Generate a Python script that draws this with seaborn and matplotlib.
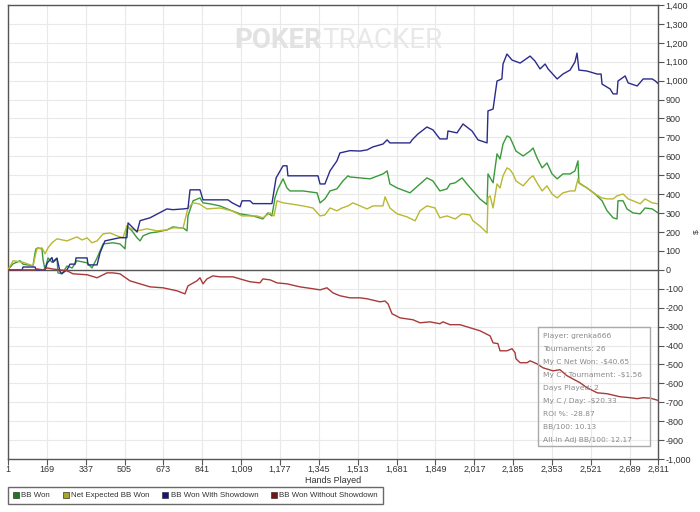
import matplotlib
matplotlib.use("Agg")
import matplotlib.pyplot as plt
from matplotlib.lines import Line2D
from matplotlib.patches import Rectangle
from matplotlib.ticker import FuncFormatter, FixedLocator, MultipleLocator
import seaborn as sns
import pandas as pd

# ---------------- data ----------------
blue_hands = [1, 62, 66, 118, 122, 161, 170, 191, 196, 213, 226, 234, 256, 269, 291, 295, 343, 347, 386, 399,
              420, 485, 515, 520, 559, 572, 615, 688, 714, 758, 779, 788, 831, 844, 952, 969, 1004, 1013, 1047,
              1060, 1142, 1160, 1190, 1207, 1211, 1341, 1350, 1371, 1393, 1423, 1436, 1479, 1523, 1553, 1579,
              1622, 1640, 1652, 1739, 1748, 1773, 1812, 1838, 1868, 1899, 1903, 1942, 1968, 2007, 2033, 2072,
              2076, 2098, 2115, 2136, 2141, 2158, 2180, 2215, 2258, 2279, 2301, 2323, 2336, 2375, 2400, 2431,
              2452, 2461, 2469, 2504, 2548, 2565, 2569, 2604, 2617, 2634, 2638, 2669, 2682, 2721, 2747, 2786,
              2800, 2811]
blue_vals = [0, 0, 15, 15, 0, 0, 35, 65, 40, 60, -10, -20, 0, 30, 30, 63, 63, 26, 26, 90,
             153, 170, 170, 248, 200, 260, 275, 322, 318, 322, 325, 423, 423, 370, 370, 355, 333, 365, 365,
             350, 350, 486, 550, 550, 497, 497, 454, 454, 523, 576, 618, 630, 628, 634, 650,
             665, 687, 671, 671, 687, 718, 755, 740, 692, 692, 734, 724, 771, 734, 687, 671,
             840, 850, 998, 1009, 1088, 1141, 1109, 1093, 1130, 1104, 1062, 1088, 1062, 1009, 1035, 1056,
             1099, 1146, 1056, 1051, 1035, 1035, 982, 956, 930, 930, 998, 1025, 988, 972, 1009, 1009,
             998, 985]

green_hands = [1, 23, 53, 66, 109, 118, 122, 131, 148, 152, 161, 174, 191, 213, 217, 234, 256, 278, 299, 343,
               364, 386, 412, 455, 485, 507, 515, 537, 559, 572, 585, 615, 645, 688, 714, 745, 758, 775, 779,
               801, 831, 844, 874, 917, 969, 1004, 1060, 1103, 1125, 1142, 1155, 1168, 1190, 1207, 1220, 1276,
               1337, 1350, 1371, 1393, 1423, 1449, 1471, 1479, 1523, 1566, 1622, 1640, 1652, 1683, 1739, 1773,
               1812, 1838, 1868, 1899, 1912, 1934, 1964, 1985, 2011, 2041, 2072, 2076, 2098, 2115, 2128, 2141,
               2158, 2171, 2184, 2197, 2228, 2258, 2271, 2288, 2310, 2331, 2353, 2375, 2400, 2431, 2452, 2465,
               2469, 2504, 2539, 2569, 2591, 2617, 2634, 2638, 2660, 2677, 2703, 2734, 2755, 2786, 2811]
green_vals = [0, 32, 48, 30, 21, 90, 111, 116, 110, 58, 0, 63, 40, 63, -16, -21, 20, 10, 48, 37,
              10, 63, 137, 143, 137, 111, 232, 206, 169, 153, 180, 195, 200, 211, 227, 222, 222, 206, 285,
              365, 380, 354, 349, 338, 312, 296, 285, 269, 301, 285, 380, 428, 481, 433, 417, 417,
              407, 354, 375, 417, 428, 470, 497, 491, 486, 481, 507, 523, 454, 433, 407, 444,
              486, 470, 417, 428, 454, 460, 486, 454, 417, 375, 345, 507, 460, 613, 586, 665,
              708, 700, 665, 628, 602, 628, 644, 592, 539, 565, 507, 481, 507, 507, 523, 576,
              460, 433, 401, 365, 312, 275, 269, 365, 365, 322, 301, 296, 327, 322, 301]

yellow_hands = [1, 23, 66, 109, 126, 148, 161, 174, 191, 213, 256, 278, 299, 321, 343, 364, 386, 412, 442, 472,
                498, 515, 528, 559, 602, 645, 688, 714, 758, 779, 801, 827, 861, 917, 969, 1013, 1077, 1103,
                1134, 1151, 1164, 1190, 1220, 1276, 1319, 1350, 1371, 1393, 1423, 1445, 1471, 1492, 1523, 1553,
                1579, 1622, 1631, 1652, 1683, 1726, 1761, 1782, 1812, 1847, 1868, 1899, 1934, 1964, 1998, 2011,
                2041, 2072, 2076, 2085, 2098, 2115, 2128, 2141, 2158, 2171, 2184, 2197, 2228, 2258, 2271, 2288,
                2310, 2331, 2353, 2375, 2400, 2431, 2452, 2465, 2474, 2504, 2539, 2569, 2591, 2617, 2634, 2660,
                2682, 2703, 2734, 2755, 2786, 2811]
yellow_vals = [0, 48, 40, 21, 111, 116, 85, 116, 143, 164, 153, 164, 174, 158, 169, 143, 153, 190, 195, 180,
               169, 232, 220, 206, 217, 206, 211, 222, 222, 327, 354, 349, 322, 327, 312, 285, 285, 275,
               301, 285, 365, 354, 349, 338, 327, 285, 290, 327, 312, 327, 338, 354, 338, 322,
               338, 338, 386, 327, 296, 280, 259, 312, 338, 327, 275, 285, 269, 296, 290, 259,
               232, 195, 380, 391, 327, 454, 433, 497, 539, 530, 507, 470, 444, 486, 497, 460,
               417, 444, 401, 380, 407, 417, 417, 481, 454, 433, 401, 380, 375, 375, 391, 401,
               375, 365, 349, 375, 354, 349]

red_hands = [1, 118, 126, 152, 170, 191, 256, 282, 343, 386, 429, 455, 485, 528, 585, 615, 671, 732, 766, 779,
             818, 831, 844, 861, 887, 917, 974, 1004, 1047, 1090, 1103, 1134, 1164, 1207, 1263, 1319, 1350,
             1380, 1406, 1436, 1479, 1523, 1553, 1609, 1631, 1644, 1661, 1696, 1752, 1782, 1825, 1868, 1881,
             1912, 1955, 1998, 2041, 2085, 2098, 2119, 2128, 2158, 2180, 2193, 2197, 2215, 2245, 2258, 2288,
             2314, 2357, 2387, 2418, 2474, 2504, 2548, 2591, 2647, 2690, 2721, 2747, 2777, 2811]
red_vals = [0, 0, 5, 0, 10, 5, -5, -21, -26, -42, -16, -16, -21, -58, -79, -90, -95, -111, -127, -85,
            -58, -42, -74, -48, -32, -37, -37, -48, -63, -69, -48, -53, -69, -74, -90, -100, -106,
            -95, -122, -137, -148, -148, -153, -169, -165, -180, -232, -254, -264, -280, -275, -285, -275,
            -290, -290, -306, -322, -349, -386, -390, -428, -428, -417, -438, -470, -491, -491, -481, -497,
            -518, -534, -528, -560, -597, -623, -650, -655, -671, -676, -681, -676, -678, -690]

series_names = ["BB Won", "Net Expected BB Won", "BB Won With Showdown", "BB Won Without Showdown"]
line_colors = ["#3a9a3a", "#b8b832", "#2b2b8c", "#a83a3a"]
legend_colors = ["#1f7a1f", "#a8a820", "#14148a", "#7a1414"]

x_ticks = [1, 169, 337, 505, 673, 841, 1009, 1177, 1345, 1513, 1681, 1849, 2017, 2185, 2353, 2521, 2689, 2811]
stats_lines = ["Player: grenka666", "Tournaments: 26", "My C Net Won: -$40.65", "My C / Tournament: -$1.56",
               "Days Played: 2", "My C / Day: -$20.33", "ROI %: -28.87", "BB/100: 10.13",
               "All-In Adj BB/100: 12.17"]

# ---------------- figure ----------------
sns.set_theme(style="white")
plt.rcParams['font.family'] = ['Liberation Sans', 'DejaVu Sans']

fig = plt.figure(figsize=(7.0, 5.12), dpi=100)
ax = fig.add_axes([8 / 700, 1 - 459 / 512, 650 / 700, 454 / 512])

series = [(green_hands, green_vals), (yellow_hands, yellow_vals), (blue_hands, blue_vals), (red_hands, red_vals)]
for (h, v), name, col in zip(series, series_names, line_colors):
    df = pd.DataFrame({"hand": h, "value": v})
    sns.lineplot(data=df, x="hand", y="value", ax=ax, color=col, linewidth=1.0,
                 estimator=None, sort=False, legend=False, zorder=3)

ax.set_xlim(1, 2811)
ax.set_ylim(-1000, 1400)

# grid
ax.xaxis.set_major_locator(FixedLocator(x_ticks))
ax.yaxis.set_major_locator(MultipleLocator(100))
ax.grid(True, color="#e9e9e9", linewidth=0.8, zorder=0)
ax.axhline(0, color="#555555", linewidth=1.0, zorder=2)

ax.xaxis.set_major_formatter(FuncFormatter(lambda v, p: f"{int(round(v)):,}"))
ax.yaxis.set_major_formatter(FuncFormatter(lambda v, p: f"{int(round(v)):,}"))
ax.yaxis.tick_right()
ax.yaxis.set_label_position("right")
ax.tick_params(axis="both", which="major", direction="out", length=4, width=0.8,
               color="#555555", labelsize=6.5, labelcolor="#333333", pad=1.5)
ax.tick_params(axis="x", bottom=True, top=False, pad=0.5)
ax.tick_params(axis="y", right=True, left=False)
for s in ax.spines.values():
    s.set_color("#555555")
    s.set_linewidth(1.0)

ax.set_xlabel("Hands Played", fontsize=6.5, color="#333333")
ax.xaxis.set_label_coords(0.5, -0.037)
ax.set_ylabel("$", fontsize=6, color="#333333")
ax.yaxis.set_label_coords(1.054, 0.5)

# watermark
fig.text(322 / 700, 1 - 40 / 512, "POKER", ha="right", va="center", fontsize=20,
         fontweight="bold", family="Roboto", color="#e2e2e2", zorder=0)
fig.text(322 / 700, 1 - 40 / 512, "TRACKER", ha="left", va="center", fontsize=20,
         family="Roboto", color="#e8e8e8", zorder=0)

# stats box
fig.patches.append(Rectangle((538 / 700, 1 - 446 / 512), 112 / 700, 119 / 512,
                             transform=fig.transFigure, fill=False, edgecolor="#aaaaaa",
                             linewidth=1.0, zorder=5))
for i, t in enumerate(stats_lines):
    fig.text(543 / 700, 1 - (336 + 13 * i) / 512, t, ha="left", va="center",
             fontsize=5.4, family="DejaVu Sans", color="#8a8a8a", zorder=6)

# legend
handles = [Line2D([0], [0], marker="s", linestyle="none", markersize=5,
                  markerfacecolor=c, markeredgecolor="#333333", markeredgewidth=0.5)
           for c in legend_colors]
leg = fig.legend(handles, series_names, loc="upper left", bbox_to_anchor=(8 / 700, 1 - 487 / 512),
                 ncol=4, fontsize=5.7, frameon=True, fancybox=False, handlelength=0.8,
                 handletextpad=0.3, columnspacing=1.55, borderpad=0.6, borderaxespad=0)
leg.get_frame().set_edgecolor("#444444")
leg.get_frame().set_linewidth(1.0)
for t in leg.get_texts():
    t.set_color("#333333")

fig.savefig("out.png", dpi=100, facecolor="white")
